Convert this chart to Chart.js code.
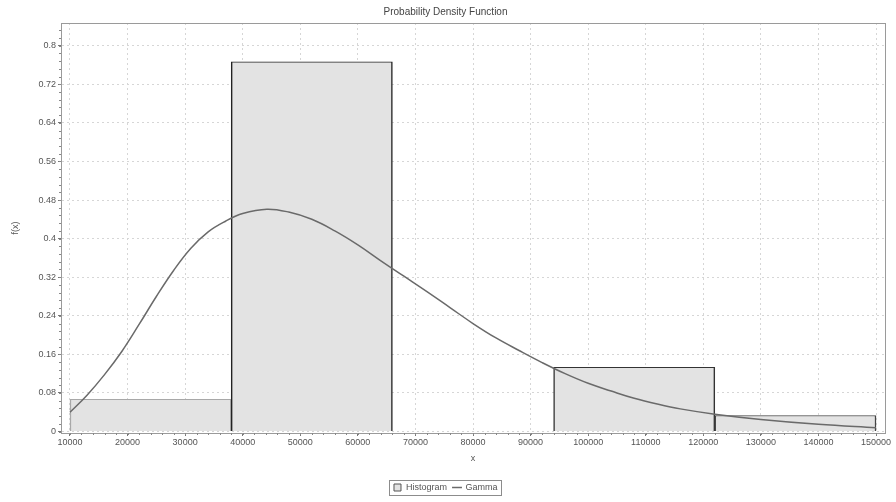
<!DOCTYPE html>
<html>
<head>
<meta charset="utf-8">
<script src="https://cdn.jsdelivr.net/npm/chart.js@4/dist/chart.umd.min.js"></script>
<style>
  html, body { margin: 0; padding: 0; background: #fff; }
  #wrap { width: 896px; height: 502px; }
</style>
</head>
<body>
<div id="wrap"><canvas id="chart-pdf" width="896" height="502"></canvas></div>
<script>
// histogram bins (centres, 28000 wide) and their relative frequencies
const binEdges = [10000, 38000, 66000, 94000, 122000, 150000];
const binCenters = [24000, 52000, 80000, 108000, 136000];
const binHeights = [0.0667, 0.7667, 0, 0.1333, 0.0333];
const binEdgeColors = ['#a8a8a8', '#222222', '#222222', '#333333', '#444444'];

// fitted gamma curve
const curveX = [10000, 13000, 16000, 19000, 22000, 25000, 28000, 31000, 34000, 37000,
    40000, 44200, 48000, 52000, 56000, 60000, 64000, 68000, 72000, 76000,
    80000, 84000, 88000, 92000, 96000, 100000, 104000, 108000, 112000, 116000,
    122000, 130000, 140000, 150000];
const curveY = [0.040, 0.076, 0.118, 0.166, 0.222, 0.280, 0.334, 0.380, 0.414, 0.436,
    0.452, 0.461, 0.455, 0.440, 0.416, 0.387, 0.354, 0.322, 0.290, 0.257,
    0.224, 0.194, 0.168, 0.143, 0.120, 0.100, 0.084, 0.069, 0.057, 0.047,
    0.036, 0.025, 0.015, 0.008];

const xTicks = [10000, 20000, 30000, 40000, 50000, 60000, 70000, 80000,
    90000, 100000, 110000, 120000, 130000, 140000, 150000];
const yTicks = [0, 0.08, 0.16, 0.24, 0.32, 0.4, 0.48, 0.56, 0.64, 0.72, 0.8];

const X_MIN = 8440, X_MAX = 151560;
const FONT = 'Liberation Sans, Arial, sans-serif';
const TXT = '#555555';

// frame round the plot plus the small minor ticks on both axes
const frame = {
    id: 'frame',
    afterDatasetsDraw(chart) {
        const { ctx, chartArea: a, scales } = chart;
        ctx.save();
        ctx.strokeStyle = '#9a9a9a';
        ctx.lineWidth = 1;
        ctx.strokeRect(a.left + 0.5, a.top + 0.5, a.right - a.left, a.bottom - a.top);

        ctx.strokeStyle = '#888';
        ctx.beginPath();
        for (let v = 10000; v <= 150000; v += 2000) {
            const px = Math.round(scales.x.getPixelForValue(v)) + 0.5;
            ctx.moveTo(px, a.bottom);
            ctx.lineTo(px, a.bottom + 2);
        }
        for (let v = 0; v <= 0.84; v += 0.016) {
            const py = Math.round(scales.y.getPixelForValue(v)) + 0.5;
            if (py < a.top) break;
            ctx.moveTo(a.left - 2, py);
            ctx.lineTo(a.left, py);
        }
        ctx.stroke();
        ctx.restore();
    },
    afterDraw(chart) {
        // box round the legend entries
        const boxes = chart.legend && chart.legend.legendHitBoxes;
        if (!boxes || !boxes.length) return;
        const left = Math.min(...boxes.map(b => b.left)) - 4;
        const right = Math.max(...boxes.map(b => b.left + b.width)) + 4;
        const top = Math.min(...boxes.map(b => b.top)) - 3;
        const bottom = Math.max(...boxes.map(b => b.top + b.height)) + 3;
        const ctx = chart.ctx;
        ctx.save();
        ctx.strokeStyle = '#8c8c8c';
        ctx.lineWidth = 1;
        ctx.strokeRect(Math.round(left) + 0.5, Math.round(top) + 0.5,
            Math.round(right - left), Math.round(bottom - top));
        ctx.restore();
    }
};

const histogram = {
    type: 'bar',
    label: 'Histogram',
    xAxisID: 'xBins',
    data: binCenters.map((x, i) => ({ x, y: binHeights[i] })),
    backgroundColor: '#e3e3e3',
    borderColor: binEdgeColors,
    borderWidth: { top: 1, left: 1.5, right: 1.5, bottom: 0 },
    borderSkipped: 'start',
    barPercentage: 1,
    categoryPercentage: 1,
    grouped: false,
    pointStyle: 'rect',
    order: 2
};

const gamma = {
    type: 'line',
    label: 'Gamma',
    xAxisID: 'x',
    data: curveX.map((x, i) => ({ x, y: curveY[i] })),
    borderColor: '#6a6a6a',
    borderWidth: 1.5,
    pointRadius: 0,
    tension: 0.4,
    fill: false,
    pointStyle: 'line',
    order: 1
};

const dotted = [2, 3];

const pdfChart = new Chart(document.getElementById('chart-pdf'), {
    data: { datasets: [histogram, gamma] },
    options: {
        responsive: false,
        animation: false,
        events: [],
        layout: { padding: { left: 6, right: 11, top: 0, bottom: 0 } },
        scales: {
            x: {
                type: 'linear',
                min: X_MIN,
                max: X_MAX,
                offset: false,
                afterBuildTicks: s => { s.ticks = xTicks.map(v => ({ value: v })); },
                afterFit: s => { s.height = 44; },
                ticks: {
                    autoSkip: false,
                    maxRotation: 0,
                    padding: 1,
                    color: TXT,
                    font: { family: FONT, size: 9 },
                    callback: v => String(v)
                },
                grid: {
                    color: '#d6d6d6',
                    tickColor: '#777',
                    tickLength: 3,
                    offset: false
                },
                border: { display: true, color: '#9a9a9a', dash: dotted },
                title: {
                    display: true,
                    text: 'x',
                    color: TXT,
                    padding: { top: 2, bottom: 13 },
                    font: { family: FONT, size: 9 }
                }
            },
            // hidden axis for the bins so the bar width follows the bin edges
            xBins: {
                type: 'linear',
                display: false,
                min: X_MIN,
                max: X_MAX,
                offset: false,
                afterBuildTicks: s => { s.ticks = binEdges.map(v => ({ value: v })); }
            },
            y: {
                type: 'linear',
                min: -0.003,
                max: 0.847,
                afterBuildTicks: s => { s.ticks = yTicks.map(v => ({ value: v })); },
                afterFit: s => { s.width = 55; },
                ticks: {
                    padding: 2,
                    color: TXT,
                    font: { family: FONT, size: 9 },
                    callback: v => String(v)
                },
                grid: {
                    color: '#d6d6d6',
                    tickColor: '#777',
                    tickLength: 3
                },
                border: { display: true, color: '#9a9a9a', dash: dotted },
                title: {
                    display: true,
                    text: 'f(x)',
                    color: TXT,
                    padding: 4,
                    font: { family: FONT, size: 9 }
                }
            }
        },
        plugins: {
            title: {
                display: true,
                text: 'Probability Density Function',
                color: '#444',
                padding: { top: 6, bottom: 5 },
                font: { family: FONT, size: 10, weight: 'normal' }
            },
            legend: {
                display: true,
                position: 'bottom',
                labels: {
                    color: TXT,
                    font: { family: FONT, size: 9 },
                    usePointStyle: true,
                    boxWidth: 8,
                    boxHeight: 7,
                    padding: 6,
                    generateLabels: chart => chart.data.datasets.map((ds, i) => ({
                        text: ds.label,
                        datasetIndex: i,
                        pointStyle: ds.pointStyle,
                        fillStyle: ds.type === 'bar' ? '#e3e3e3' : 'rgba(0,0,0,0)',
                        strokeStyle: ds.type === 'bar' ? '#555' : '#6a6a6a',
                        lineWidth: ds.type === 'bar' ? 1 : 1.5,
                        fontColor: TXT,
                        hidden: false
                    }))
                }
            },
            tooltip: { enabled: false }
        }
    },
    plugins: [frame]
});

// dotted grid lines
['x', 'y'].forEach(id => {
    pdfChart.options.scales[id].grid.borderDash = dotted;
});
pdfChart.update();
</script>
</body>
</html>
